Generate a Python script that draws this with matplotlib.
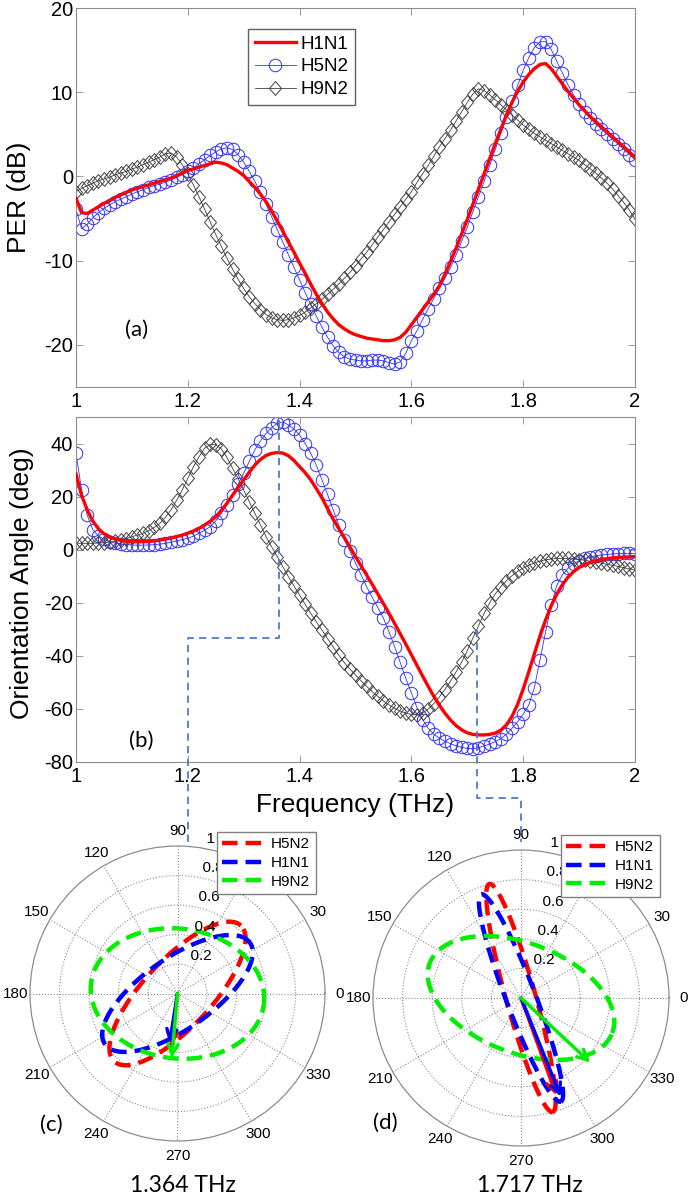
import numpy as np
import matplotlib
matplotlib.use('Agg')
import matplotlib.pyplot as plt
from matplotlib.lines import Line2D
from matplotlib.markers import MarkerStyle
from matplotlib.transforms import Affine2D

plt.rcParams['font.family'] = ['Liberation Sans', 'DejaVu Sans']
plt.rcParams['axes.unicode_minus'] = False

# frequency sweep, 1 to 2 THz in 0.01 steps
freq = np.linspace(1.0, 2.0, 101)

# (a) PER in dB
per_h1n1 = [-2.6, -4.3, -4.4, -4.0, -3.6, -3.2, -2.9, -2.5, -2.2, -1.9,
            -1.6, -1.4, -1.2, -1.0, -0.8, -0.6, -0.4, -0.2, 0.1, 0.4,
            0.7, 0.9, 1.1, 1.3, 1.5, 1.7, 1.6, 1.4, 1.0, 0.6,
            0.1, -0.6, -1.3, -2.1, -3.0, -4.1, -5.3, -6.5, -7.8, -9.0,
            -10.3, -11.5, -12.8, -14.0, -15.1, -16.1, -16.9, -17.6, -18.1, -18.5,
            -18.8, -19.0, -19.2, -19.3, -19.4, -19.5, -19.5, -19.4, -19.1, -18.5,
            -17.6, -16.7, -15.8, -14.9, -14.0, -13.0, -11.6, -10.1, -8.5, -6.8,
            -5.1, -3.3, -1.5, 0.3, 2.1, 3.9, 5.6, 7.3, 8.8, 10.1,
            11.2, 12.1, 12.8, 13.3, 13.4, 12.8, 11.9, 11.0, 10.1, 9.3,
            8.5, 7.8, 7.1, 6.5, 5.9, 5.3, 4.7, 4.1, 3.5, 2.9,
            2.3]
per_h5n2 = [-3.9, -6.2, -5.7, -4.9, -4.3, -3.8, -3.4, -3.0, -2.7, -2.4,
            -2.1, -1.8, -1.6, -1.3, -1.1, -0.9, -0.7, -0.4, -0.1, 0.2,
            0.6, 1.0, 1.5, 2.0, 2.5, 2.9, 3.3, 3.4, 3.2, 2.6,
            1.7, 0.6, -0.6, -1.9, -3.3, -4.8, -6.3, -7.8, -9.3, -10.8,
            -12.3, -13.8, -15.2, -16.6, -17.9, -19.1, -20.1, -20.9, -21.4, -21.7,
            -21.8, -21.9, -21.9, -21.8, -21.8, -21.9, -22.1, -22.3, -22.0, -21.0,
            -19.5, -18.3, -17.0, -15.7, -14.5, -13.3, -12.1, -10.8, -9.3, -7.7,
            -6.0, -4.2, -2.4, -0.6, 1.3, 3.2, 5.1, 7.0, 8.9, 10.8,
            12.6, 14.1, 15.3, 16.0, 16.0, 15.1, 13.7, 12.3, 10.9, 9.7,
            8.6, 7.7, 6.9, 6.2, 5.6, 5.0, 4.4, 3.8, 3.2, 2.6,
            2.0]
per_h9n2 = [-1.8, -1.4, -1.1, -0.8, -0.5, -0.3, -0.1, 0.2, 0.4, 0.6,
            0.9, 1.1, 1.4, 1.7, 2.0, 2.3, 2.7, 2.8, 2.3, 1.4,
            0.3, -1.0, -2.4, -3.9, -5.4, -6.9, -8.3, -9.7, -11.0, -12.2,
            -13.3, -14.3, -15.1, -15.8, -16.4, -16.8, -17.0, -17.1, -17.0, -16.8,
            -16.5, -16.1, -15.6, -15.1, -14.6, -14.0, -13.4, -12.8, -12.1, -11.4,
            -10.6, -9.8, -9.0, -8.1, -7.2, -6.3, -5.4, -4.5, -3.6, -2.7,
            -1.8, -0.7, 0.3, 1.3, 2.4, 3.5, 4.5, 5.5, 6.6, 7.7,
            8.8, 9.8, 10.4, 10.2, 9.7, 9.1, 8.5, 7.9, 7.3, 6.7,
            6.1, 5.6, 5.1, 4.7, 4.3, 3.9, 3.5, 3.1, 2.7, 2.3,
            1.9, 1.4, 0.9, 0.4, -0.2, -0.8, -1.5, -2.3, -3.1, -4.0,
            -5.1]

# (b) orientation angle in degrees
ang_h1n1 = [28.5, 20.5, 15.0, 10.8, 7.9, 6.0, 4.8, 4.0, 3.5, 3.2,
            3.0, 3.0, 3.0, 3.1, 3.3, 3.6, 4.0, 4.4, 4.9, 5.5,
            6.2, 7.0, 8.0, 9.3, 10.7, 12.4, 14.8, 17.5, 20.5, 23.5,
            26.3, 29.2, 31.9, 34.0, 35.5, 36.3, 36.6, 36.4, 35.4, 33.6,
            31.3, 29.0, 26.3, 23.0, 19.5, 15.5, 11.5, 8.0, 4.5, 1.0,
            -2.6, -6.1, -9.6, -13.1, -16.7, -20.3, -24.0, -27.8, -31.7, -35.6,
            -39.6, -43.6, -47.6, -51.5, -55.2, -58.6, -61.6, -64.2, -66.3, -67.9,
            -69.0, -69.6, -69.8, -69.8, -69.6, -69.1, -68.0, -66.0, -62.8, -58.3,
            -52.5, -46.0, -39.2, -32.5, -26.5, -21.2, -16.8, -13.2, -10.4, -8.3,
            -6.7, -5.6, -4.8, -4.2, -3.7, -3.4, -3.1, -2.9, -2.8, -2.7,
            -2.6]
ang_h5n2 = [36.3, 22.5, 13.0, 7.6, 5.2, 3.9, 3.0, 2.5, 2.1, 1.9,
            1.8, 1.7, 1.7, 1.8, 1.9, 2.1, 2.4, 2.8, 3.3, 3.8,
            4.3, 5.1, 6.2, 7.3, 8.7, 10.9, 13.7, 17.0, 20.6, 24.6,
            28.8, 33.3, 37.6, 41.0, 43.8, 46.0, 47.6, 48.2, 47.0, 45.5,
            43.2, 40.0, 36.3, 31.8, 26.3, 20.8, 15.0, 9.3, 3.8, -0.5,
            -5.0, -9.5, -14.0, -18.0, -21.8, -25.8, -31.0, -36.5, -42.5, -48.5,
            -54.0, -59.5, -64.0, -67.3, -69.5, -71.0, -72.2, -73.1, -73.9, -74.5,
            -74.9, -75.0, -74.6, -74.0, -73.2, -72.3, -71.2, -69.5, -67.3, -64.8,
            -62.0, -58.5, -52.0, -41.5, -31.0, -21.0, -13.5, -9.5, -7.0, -5.3,
            -4.1, -3.3, -2.7, -2.3, -2.0, -1.8, -1.6, -1.5, -1.4, -1.4,
            -1.5]
ang_h9n2 = [2.4, 2.4, 2.4, 2.4, 2.5, 2.6, 2.9, 3.2, 3.6, 4.2,
            4.9, 5.5, 6.2, 7.2, 8.4, 9.9, 12.2, 15.0, 18.6, 22.5,
            26.9, 31.2, 35.0, 38.2, 39.7, 39.6, 38.0, 34.8, 30.7, 26.8,
            22.5, 18.1, 13.7, 9.3, 4.9, 1.1, -2.6, -6.4, -10.2, -13.7,
            -17.1, -20.6, -24.0, -27.2, -30.3, -33.5, -36.6, -39.7, -42.6, -45.0,
            -47.2, -49.4, -51.5, -53.5, -55.3, -57.0, -58.5, -59.8, -60.8, -61.6,
            -62.1, -62.3, -61.5, -60.1, -58.0, -55.5, -52.7, -49.5, -46.0, -42.3,
            -38.0, -33.3, -28.7, -24.0, -20.0, -16.7, -13.9, -11.7, -9.8, -8.2,
            -6.9, -5.9, -5.0, -4.3, -3.8, -3.5, -3.3, -3.3, -3.3, -3.5,
            -3.7, -4.0, -4.3, -4.7, -5.1, -5.5, -5.9, -6.3, -6.8, -7.2,
            -7.7]

# polarization ellipses (order: H5N2, H1N1, H9N2)
pol_names = ['H5N2', 'H1N1', 'H9N2']
pol_colors = ['#ff0000', '#0000ff', '#00ee00']
c_freq = 1.364
c_major = [0.63, 0.60, 0.59]
c_minor = [0.23, 0.24, 0.44]
c_tilt = [47, 35, -7]
c_arrow_ang = [263, 261, 265]
c_arrow_len = [0.36, 0.34, 0.44]
d_freq = 1.717
d_major = [0.80, 0.75, 0.66]
d_minor = [0.10, 0.10, 0.37]
d_tilt = [-74.5, -69, -21]
d_arrow_ang = [-70, -68, -43]
d_arrow_len = [0.70, 0.72, 0.64]

W, H = 688.0, 1197.0


def box(l, t, r, b):
    return [l / W, 1 - b / H, (r - l) / W, (b - t) / H]


fig = plt.figure(figsize=(W / 100, H / 100), dpi=100)
ax_a = fig.add_axes(box(76, 8, 635, 387))
ax_b = fig.add_axes(box(76, 417, 635, 762))
ax_c = fig.add_axes(box(30, 846, 325, 1141), projection='polar')
ax_d = fig.add_axes(box(373, 850, 669, 1146), projection='polar')

diamond = MarkerStyle('D', transform=Affine2D().scale(0.8, 1.0))
grey = '#8c8c8c'

for ax, s1, s5, s9 in [(ax_a, per_h1n1, per_h5n2, per_h9n2),
                       (ax_b, ang_h1n1, ang_h5n2, ang_h9n2)]:
    ax.plot(freq, s5, color='#3030ff', lw=0.6, marker='o', ms=9,
            mfc='none', mec='#3030ff', mew=0.7, label='H5N2', zorder=2)
    ax.plot(freq, s9, color='#404040', lw=0.6, marker=diamond, ms=7.2,
            mfc='none', mec='#404040', mew=0.7, label='H9N2', zorder=2)
    ax.plot(freq, s1, color='#ff0000', lw=2.4, label='H1N1', zorder=3)
    ax.set_xlim(1, 2)
    ax.set_xticks([1, 1.2, 1.4, 1.6, 1.8, 2])
    ax.set_xticklabels(['1', '1.2', '1.4', '1.6', '1.8', '2'])
    ax.tick_params(direction='in', top=True, right=True, length=5, width=0.6,
                   color=grey, labelsize=14.5)
    ax.tick_params(axis='x', pad=3.5)
    ax.tick_params(axis='y', pad=2.2)
    for sp in ax.spines.values():
        sp.set_color(grey)
        sp.set_linewidth(0.8)

ax_a.set_ylim(-25, 20)
ax_a.set_yticks([-20, -10, 0, 10, 20])
ax_a.set_ylabel('PER (dB)', fontsize=19, va='center')
ax_a.yaxis.set_label_coords(-0.102, 0.5)
ax_a.text(1.109, -18.2, '(a)', ha='center', va='center', fontsize=16,
          family=['Lato', 'DejaVu Sans'])

ax_b.set_ylim(-80, 50)
ax_b.set_yticks([-80, -60, -40, -20, 0, 20, 40])
ax_b.set_ylabel('Orientation Angle (deg)', fontsize=19, va='center')
ax_b.yaxis.set_label_coords(-0.097, 0.519)
ax_b.set_xlabel('Frequency (THz)', fontsize=19, va='center')
ax_b.xaxis.set_label_coords(0.5, -0.125)
ax_b.text(1.116, -72.1, '(b)', ha='center', va='center', fontsize=16,
          family=['Lato', 'DejaVu Sans'])

h = {l.get_label(): l for l in ax_a.get_lines()}
ax_a.legend([h['H1N1'], h['H5N2'], h['H9N2']], ['H1N1', 'H5N2', 'H9N2'],
            loc='upper left', bbox_to_anchor=(248 / W, 1 - 29 / H),
            bbox_transform=fig.transFigure, borderaxespad=0, fontsize=13.5,
            handlelength=2.2, handletextpad=0.25, labelspacing=0.3,
            borderpad=0.35, fancybox=False, framealpha=1, edgecolor='#606060')


def polar_panel(ax, major, minor, tilt, arr_ang, arr_len, leg_xy):
    ax.set_ylim(0, 1)
    ax.set_xticks(np.deg2rad(np.arange(0, 360, 30)))
    ax.set_xticklabels([])
    ax.set_yticks([0.2, 0.4, 0.6, 0.8])
    ax.set_yticklabels([])
    ax.tick_params(length=0)
    ax.xaxis.grid(True, color=grey, ls=':', lw=0.8)
    ax.yaxis.grid(True, color=grey, ls=':', lw=0.8)
    ax.spines['polar'].set_color(grey)
    ax.spines['polar'].set_linewidth(0.9)
    for deg in range(0, 360, 30):
        ax.text(np.deg2rad(deg), 1.1, str(deg), ha='center', va='center',
                fontsize=11)
    for rv in [0.2, 0.4, 0.6, 0.8, 1.0]:
        ax.text(np.deg2rad(82), rv + 0.01, '  %g' % rv, ha='left',
                va='bottom', fontsize=11)
    t = np.linspace(0, 2 * np.pi, 241)
    handles = []
    for a, b, psi, ang, ln, col in zip(major, minor, tilt, arr_ang,
                                        arr_len, pol_colors):
        p = np.deg2rad(psi)
        x = a * np.cos(t) * np.cos(p) - b * np.sin(t) * np.sin(p)
        y = a * np.cos(t) * np.sin(p) + b * np.sin(t) * np.cos(p)
        th = np.unwrap(np.arctan2(y, x))
        ln_obj, = ax.plot(th, np.hypot(x, y), color=col, lw=3.2,
                          dashes=(3.5, 1.8))
        handles.append(ln_obj)
        ax.annotate('', xy=(np.deg2rad(ang), ln), xytext=(0, 0),
                    arrowprops=dict(arrowstyle='->', color=col, lw=2.5,
                                    shrinkA=0, shrinkB=0, mutation_scale=18))
    leg = ax.legend(handles, pol_names, loc='upper left',
                    bbox_to_anchor=(leg_xy[0] / W, 1 - leg_xy[1] / H),
                    bbox_transform=fig.transFigure, borderaxespad=0,
                    fontsize=11, handlelength=2.8, handletextpad=0.4,
                    labelspacing=0.3, borderpad=0.35, fancybox=False,
                    framealpha=1, edgecolor='#808080')
    leg.set_zorder(10)


polar_panel(ax_c, c_major, c_minor, c_tilt, c_arrow_ang, c_arrow_len,
            (217, 832))
polar_panel(ax_d, d_major, d_minor, d_tilt, d_arrow_ang, d_arrow_len,
            (561, 835))

lato = ['Lato', 'DejaVu Sans']
fig.text(51.5 / W, 1 - 1125 / H, '(c)', ha='center', va='center',
         fontsize=16, family=lato)
fig.text(385.5 / W, 1 - 1123 / H, '(d)', ha='center', va='center',
         fontsize=16, family=lato)
fig.text(183 / W, 1 - 1186 / H, '%.3f THz' % c_freq, ha='center',
         va='center', fontsize=16.5, family=lato)
fig.text(529.5 / W, 1 - 1186 / H, '%.3f THz' % d_freq, ha='center',
         va='center', fontsize=16.5, family=lato)

# dashed guides from panel (b) down to the polar plots
to_fig = fig.transFigure.inverted()


def fig_xy(ax, x, y):
    return to_fig.transform(ax.transData.transform((x, y)))


step_level = -33.4
c_pos = ax_c.get_position()
d_pos = ax_d.get_position()
p1 = fig_xy(ax_b, c_freq, np.interp(c_freq, freq, ang_h5n2) + 1)
p2 = fig_xy(ax_b, c_freq, step_level)
p3 = fig_xy(ax_b, 1.2, step_level)
guide1 = [p1, p2, p3, (p3[0], c_pos.y1)]
q1 = fig_xy(ax_b, d_freq, np.interp(d_freq, freq, ang_h9n2))
q_mid = 1 - 798 / H
d_cx = (d_pos.x0 + d_pos.x1) / 2
guide2 = [q1, (q1[0], q_mid), (d_cx, q_mid), (d_cx, 1 - 842 / H)]
for g in (guide1, guide2):
    g = np.array(g, dtype=float)
    fig.add_artist(Line2D(g[:, 0], g[:, 1], transform=fig.transFigure,
                          color='#4a7ccc', lw=1.3, dashes=(4, 3), zorder=20))

fig.savefig('out.png', dpi=100)
